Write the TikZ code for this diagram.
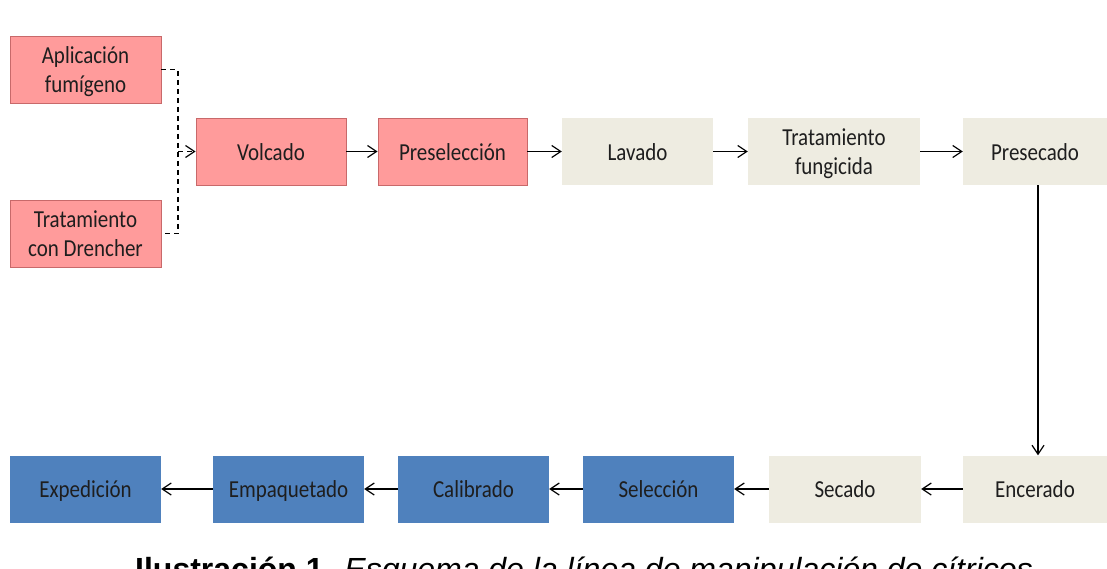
\documentclass[tikz,border=0pt]{standalone}
\usepackage{fontspec}
\usepackage{graphicx}
\setmainfont{Carlito}
\newfontfamily\capfont{Liberation Sans}
\usetikzlibrary{arrows.meta}
\definecolor{pinkfill}{HTML}{FF9B9B}
\definecolor{pinkline}{HTML}{C8696A}
\definecolor{beigefill}{HTML}{EEECE1}
\definecolor{bluefill}{HTML}{4F81BD}
\definecolor{txt}{HTML}{1E1E1E}
\newcommand\lbl[1]{\raisebox{-2.8pt}[\height][\depth]{\scalebox{0.86}[1]{\begin{tabular}{@{}c@{}}#1\end{tabular}}}}
\tikzset{
  box/.style={minimum height=67pt, inner sep=0pt, text=txt,
    font=\fontsize{24.4}{29}\selectfont},
  pinkbox/.style={box, fill=pinkfill, draw=pinkline, line width=0.8pt},
  beigebox/.style={box, fill=beigefill},
  bluebox/.style={box, fill=bluefill},
  arr/.style={line width=1.2pt, -{Straight Barb[length=9pt,width=12pt]}},
  dash line/.style={line width=1.2pt, dash pattern=on 5pt off 4pt}
}
\begin{document}
\begin{tikzpicture}[x=1pt,y=-1pt]
\useasboundingbox (0,0) rectangle (1107,569);
\clip (0,0) rectangle (1107,569);
% top row
\node[pinkbox, minimum width=151pt] (apl) at (85.5,69.5) {\lbl{Aplicación\\fumígeno}};
\node[pinkbox, minimum width=151pt] (dre) at (85.5,233.5) {\lbl{Tratamiento\\con Drencher}};
\node[pinkbox, minimum width=150pt] (vol) at (271,151.5) {\lbl{Volcado}};
\node[pinkbox, minimum width=149pt] (pres) at (452.5,151.5) {\lbl{Preselección}};
\node[beigebox, minimum width=151pt] (lav) at (637.5,151.5) {\lbl{Lavado}};
\node[beigebox, minimum width=172pt] (fun) at (834,151.5) {\lbl{Tratamiento\\fungicida}};
\node[beigebox, minimum width=144pt] (prs) at (1035,151.5) {\lbl{Presecado}};
% bottom row
\node[beigebox, minimum width=144pt] (enc) at (1035,489) {\lbl{Encerado}};
\node[beigebox, minimum width=152pt] (sec) at (845,489) {\lbl{Secado}};
\node[bluebox, minimum width=151pt] (sel) at (658.5,489) {\lbl{Selección}};
\node[bluebox, minimum width=151pt] (cal) at (473.5,489) {\lbl{Calibrado}};
\node[bluebox, minimum width=151pt] (emp) at (288.5,489) {\lbl{Empaquetado}};
\node[bluebox, minimum width=151pt] (exp) at (85.5,489) {\lbl{Expedición}};
% dashed merge
\coordinate (j) at (178,151.5);
\draw[dash line] (apl.east) -| (j) |- (dre.east);
\draw[dash line, -{Straight Barb[length=9pt,width=12pt]}] (j) -- (vol.west);
% arrows
\draw[arr] (vol.east) -- (pres.west);
\draw[arr] (pres.east) -- (lav.west);
\draw[arr] (lav.east) -- (fun.west);
\draw[arr] (fun.east) -- (prs.west);
\draw[arr] ([xshift=3pt]prs.south) -- ([xshift=3pt]enc.north);
\draw[arr] (enc.west) -- (sec.east);
\draw[arr] (sec.west) -- (sel.east);
\draw[arr] (sel.west) -- (cal.east);
\draw[arr] (cal.west) -- (emp.east);
\draw[arr] (emp.west) -- (exp.east);
% caption
\node[anchor=base, inner sep=0pt, font=\capfont\fontsize{32}{38}\selectfont] (cap) at (584,580)
  {\textbf{Ilustración 1.} \textit{Esquema de la línea de manipulación de cítricos}};
\end{tikzpicture}
\end{document}
